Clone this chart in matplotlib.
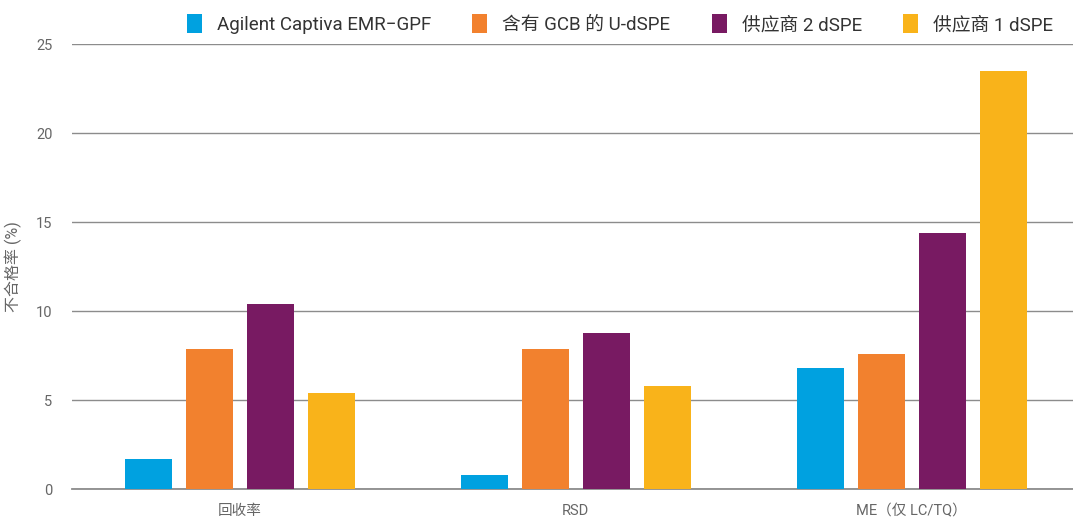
import numpy as np
import matplotlib
matplotlib.use("Agg")
from matplotlib import pyplot as plt

plt.rcParams['font.family'] = ['Roboto', 'Noto Sans CJK SC', 'DejaVu Sans']

categories = ['回收率', 'RSD', 'ME（仅 LC/TQ）']
series = ['Agilent Captiva EMR\u2212GPF', '含有 GCB 的 U-dSPE', '供应商 2 dSPE', '供应商 1 dSPE']
emr = [1.7, 0.8, 6.8]
udspe = [7.9, 7.9, 7.6]
vendor2 = [10.4, 8.8, 14.4]
vendor1 = [5.4, 5.8, 23.5]
colors = ['#00A1E0', '#F2812E', '#781A62', '#F9B31A']

fig = plt.figure(figsize=(10.73, 5.21), dpi=100)
ax = fig.add_axes([0.067, 0.061, 0.933, 0.8545])

x = np.arange(len(categories))
w = 0.14
step = 0.1815
for i, (vals, c, name) in enumerate(zip([emr, udspe, vendor2, vendor1], colors, series)):
    ax.bar(x + (i - 1.5) * step, vals, w, color=c, label=name, zorder=3)

ax.set_xlim(-0.5, 2.48)
ax.set_ylim(0, 25)
ax.set_yticks(np.arange(0, 26, 5))
ax.yaxis.grid(True, color='#8c8c8c', linewidth=1, zorder=0)
for s in ['top', 'right', 'left']:
    ax.spines[s].set_visible(False)
ax.spines['bottom'].set_color('#8c8c8c')
ax.spines['bottom'].set_linewidth(1.3)
ax.tick_params(axis='both', length=0, colors='#666666', labelsize=10.5)
ax.tick_params(axis='y', pad=14)
ax.tick_params(axis='x', pad=11)
ax.set_xticks(x)
ax.set_xticklabels(categories)
ax.set_ylabel('不合格率 (%)', color='#666666', fontsize=11.5, labelpad=10)

fig.legend(loc='upper right', bbox_to_anchor=(0.997, 1.005), ncol=4, frameon=False,
           fontsize=13.5, handlelength=0.8, handleheight=1.2, columnspacing=2.2,
           handletextpad=0.8, labelcolor='#333333')

fig.savefig('out.png', dpi=100)
